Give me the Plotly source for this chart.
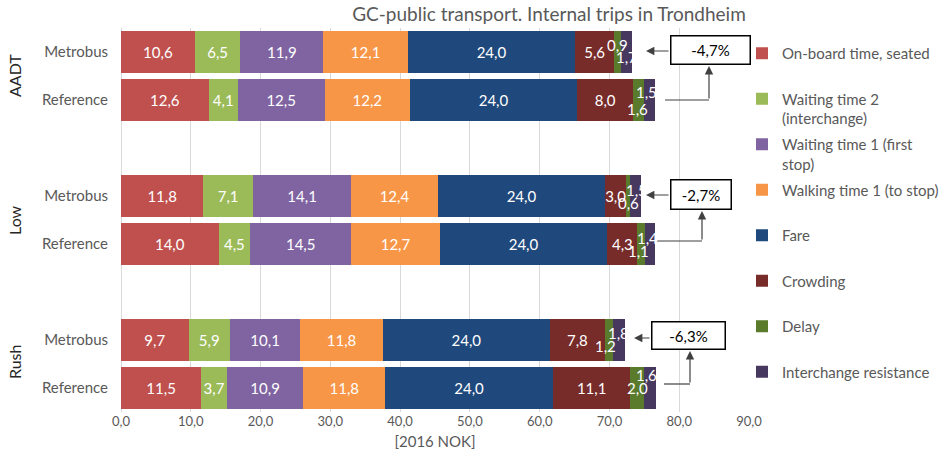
import plotly.graph_objects as go

# ---- data -------------------------------------------------------------
GROUPS = ["AADT", "Low", "Rush"]
ALTERNATIVES = ["Metrobus", "Reference"]

COMPONENTS = [
    "On-board time, seated",
    "Waiting time 2<br>(interchange)",
    "Waiting time 1 (first<br>stop)",
    "Walking time 1 (to stop)",
    "Fare",
    "Crowding",
    "Delay",
    "Interchange resistance",
]

# values per bar, order: AADT Metrobus, AADT Reference, Low Metrobus,
# Low Reference, Rush Metrobus, Rush Reference   [2016 NOK]
onboard = [10.6, 12.6, 11.8, 14.0, 9.7, 11.5]
wait2 = [6.5, 4.1, 7.1, 4.5, 5.9, 3.7]
wait1 = [11.9, 12.5, 14.1, 14.5, 10.1, 10.9]
walking = [12.1, 12.2, 12.4, 12.7, 11.8, 11.8]
fare = [24.0, 24.0, 24.0, 24.0, 24.0, 24.0]
crowding = [5.6, 8.0, 3.0, 4.3, 7.8, 11.1]
delay = [0.9, 1.6, 0.6, 1.1, 1.2, 2.0]
interchange = [1.7, 1.5, 1.5, 1.4, 1.8, 1.6]

changes = ["-4,7%", "-2,7%", "-6,3%"]

SERIES = [onboard, wait2, wait1, walking, fare, crowding, delay, interchange]
COLORS = ["#C0504D", "#9BBB59", "#8064A2", "#F79646",
          "#1F497D", "#772C2A", "#5A7A2C", "#47385F"]

FONT = "Lato, Calibri, sans-serif"
GREY = "#595959"

# category rows, with empty spacer rows between the scenario groups
bar_rows = [f"{g} · {a}" for g in GROUPS for a in ALTERNATIVES]
spacers = [" ", "  "]
category_order = [bar_rows[0], bar_rows[1], spacers[0],
                  bar_rows[2], bar_rows[3], spacers[1],
                  bar_rows[4], bar_rows[5]]

# ---- figure geometry ---------------------------------------------------
W, H = 944, 459
ML, MR, MT, MB = 121, 195, 28, 47
PW, PH = W - ML - MR, H - MT - MB


def px(xp):
    return (xp - ML) / PW


def py(yp):
    return (H - MB - yp) / PH


fig = go.Figure()

n_main = 6  # segments whose labels sit inside the bar
for i, (name, vals, col) in enumerate(zip(COMPONENTS, SERIES, COLORS)):
    fig.add_trace(go.Bar(
        y=bar_rows, x=vals, name=name + ("" if "<br>" in name else "<br> "),
        orientation="h", marker=dict(color=col, line=dict(width=0)),
        text=vals if i < n_main else None,
        texttemplate="%{x:.1f}" if i < n_main else None,
        textposition="inside" if i < n_main else "none",
        insidetextanchor="middle", constraintext="none", textangle=0,
        textfont=dict(color="white", size=15, family=FONT),
        legendgroup=f"g{i}", hoverinfo="x+name",
    ))

annotations = []

# labels for the two thin end segments, nudged apart so they stay readable
delay_shift = [(0, 7), (-1, -9), (0, -7), (-3, -7), (-3, -6), (0, 0)]
inter_shift = [(0, -5), (-3, 8), (1, 6), (-2, 6), (-1, 7), (-3, 13)]
for k, row in enumerate(bar_rows):
    base = sum(s[k] for s in SERIES[:6])
    for val, start, (dx, dy) in ((delay[k], base, delay_shift[k]),
                                 (interchange[k], base + delay[k], inter_shift[k])):
        annotations.append(dict(
            x=start + val / 2, y=row, xref="x", yref="y",
            text=f"{val:.1f}".replace(".", ","), showarrow=False,
            xshift=dx, yshift=dy,
            font=dict(color="white", size=15, family=FONT)))

# rotated scenario labels on the far left
for g, yc in zip(GROUPS, [76, 220, 362]):
    annotations.append(dict(
        x=px(14), y=py(yc), xref="paper", yref="paper", text=g,
        textangle=-90, showarrow=False, xanchor="center", yanchor="middle",
        font=dict(size=16, color="#262626", family=FONT)))

# change call-outs: box, arrow to the Metrobus bar, connector from Reference
callouts = [
    # box x0, x1, y0, y1 / arrow tip x, y / connector start x, y, corner x
    dict(box=(670, 751, 35, 65), tip=(646, 51), conn=(665, 100, 709)),
    dict(box=(670, 732, 179, 210), tip=(646, 195), conn=(657, 241, 702)),
    dict(box=(651, 726, 321, 350), tip=(634, 338), conn=(664, 384, 690)),
]
shapes = []
LINE = "#404040"
for c, txt in zip(callouts, changes):
    x0, x1, y0, y1 = c["box"]
    tx, ty = c["tip"]
    sx, sy, cx = c["conn"]
    annotations.append(dict(
        x=px((x0 + x1) / 2), y=py((y0 + y1) / 2), xref="paper", yref="paper",
        text=txt, showarrow=False, xanchor="center", yanchor="middle",
        width=x1 - x0 - 3, height=y1 - y0 - 3, borderpad=0,
        bordercolor="#000000", borderwidth=1.5, bgcolor="white",
        font=dict(size=15, color="#000000", family=FONT)))
    annotations.append(dict(
        x=px(tx), y=py(ty), xref="paper", yref="paper", text="",
        showarrow=True, ax=x0 - tx, ay=0, arrowhead=2, arrowsize=1.4,
        arrowwidth=1.2, arrowcolor=LINE, standoff=0))
    shapes.append(dict(type="line", xref="paper", yref="paper",
                       x0=px(sx), x1=px(cx), y0=py(sy), y1=py(sy),
                       line=dict(color=LINE, width=1.2)))
    annotations.append(dict(
        x=px(cx), y=py(y1 + 1), xref="paper", yref="paper", text="",
        showarrow=True, ax=0, ay=sy - (y1 + 1), arrowhead=2, arrowsize=1.4,
        arrowwidth=1.2, arrowcolor=LINE, standoff=0))

fig.update_layout(
    width=W, height=H,
    margin=dict(l=ML, r=MR, t=MT, b=MB, pad=0, autoexpand=False),
    paper_bgcolor="white", plot_bgcolor="white",
    barmode="stack", bargap=0.125,
    separators=", ",
    font=dict(family=FONT, color=GREY, size=14),
    title=dict(text="GC-public transport. Internal trips in Trondheim",
               x=549 / W, xanchor="center", y=1 - 14 / H, yanchor="middle",
               font=dict(size=19, color=GREY, family=FONT)),
    xaxis=dict(range=[0, 90], dtick=10, tickformat=".1f",
               showgrid=True, gridcolor="#D9D9D9", gridwidth=1,
               zeroline=True, zerolinecolor="#D9D9D9", zerolinewidth=1,
               showline=False, ticks="", tickfont=dict(size=13, color=GREY),
               title=dict(text="[2016 NOK]", font=dict(size=15, color=GREY),
                          standoff=8)),
    yaxis=dict(type="category", categoryorder="array",
               categoryarray=category_order,
               range=[len(category_order) - 0.5, -0.5],
               tickmode="array", tickvals=bar_rows,
               ticktext=[r.split(" · ")[1] for r in bar_rows],
               ticks="", ticklabelstandoff=12, showgrid=False,
               tickfont=dict(size=15, color=GREY)),
    legend=dict(x=px(742), xanchor="left", y=py(37), yanchor="top",
                traceorder="grouped", tracegroupgap=3.5, valign="top",
                font=dict(size=15, color=GREY, family=FONT),
                bgcolor="rgba(0,0,0,0)"),
    annotations=annotations,
    shapes=shapes,
)

fig.write_html("out.html")
